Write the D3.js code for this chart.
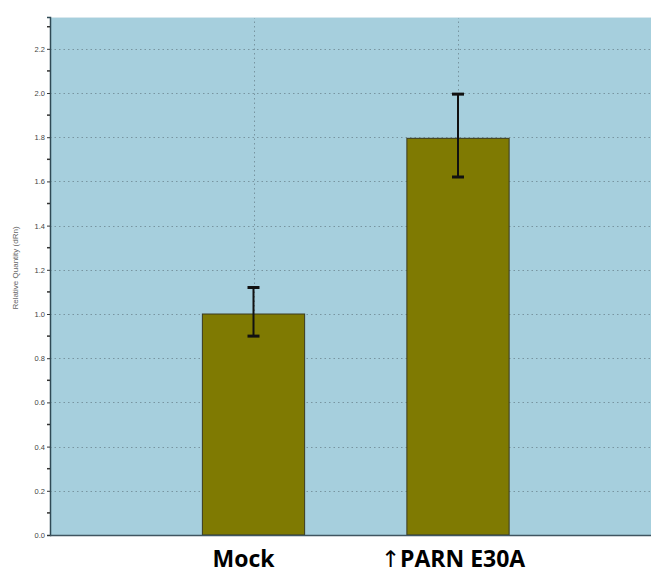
<!DOCTYPE html>
<html>
<head>
<meta charset="utf-8">
<script src="https://cdn.jsdelivr.net/npm/d3@7"></script>
<style>
  body { margin: 0; background: #fff; }
  svg { display: block; }
</style>
</head>
<body>
<svg id="chart" width="651" height="574"></svg>
<script>
// data
const categories = ["Mock", "\u2191PARN E30A"];
const values = [1.0, 1.795];
const errLow = [0.90, 1.62];
const errHigh = [1.12, 1.995];
const yTicks = [0.0, 0.2, 0.4, 0.6, 0.8, 1.0, 1.2, 1.4, 1.6, 1.8, 2.0, 2.2];

const svg = d3.select("#chart");
const W = 651, H = 574;
const plotLeft = 50, plotTop = 17, plotBottom = 535;

// bars sit at positions 1 and 2 on a 0..3 axis that runs past the right edge
const x = d3.scaleLinear().domain([0, 3]).range([49, 662.5]);
const y = d3.scaleLinear().domain([0, 2.344]).range([plotBottom, plotTop]);
const barW = x(0.5) - x(0);

svg.append("defs").append("clipPath").attr("id", "clip")
    .append("rect").attr("x", plotLeft).attr("y", plotTop).attr("width", W - plotLeft).attr("height", plotBottom - plotTop);

const plot = svg.append("g").attr("clip-path", "url(#clip)");

plot.append("rect")
    .attr("x", plotLeft).attr("y", plotTop)
    .attr("width", W - plotLeft).attr("height", plotBottom - plotTop)
    .attr("fill", "#a6cfdd");

// top border line of plot
svg.append("line")
    .attr("x1", plotLeft).attr("x2", W).attr("y1", plotTop + 0.5).attr("y2", plotTop + 0.5)
    .attr("stroke", "#d8e8ee").attr("stroke-width", 1);

// horizontal grid
plot.selectAll(".hgrid").data(yTicks.filter(d => d > 0)).enter().append("line")
    .attr("x1", plotLeft).attr("x2", W)
    .attr("y1", d => Math.round(y(d)) + 0.5).attr("y2", d => Math.round(y(d)) + 0.5)
    .attr("stroke", "#7895a0").attr("stroke-width", 1)
    .attr("stroke-dasharray", "1.5,3");

// vertical grid at category centers
plot.selectAll(".vgrid").data(categories).enter().append("line")
    .attr("x1", (d, i) => Math.round(x(i + 1)) + 0.5).attr("x2", (d, i) => Math.round(x(i + 1)) + 0.5)
    .attr("y1", plotTop).attr("y2", plotBottom)
    .attr("stroke", "#7895a0").attr("stroke-width", 1)
    .attr("stroke-dasharray", "1.5,3");

// bars
plot.selectAll(".bar").data(values).enter().append("rect")
    .attr("x", (d, i) => x(i + 1) - barW / 2)
    .attr("y", d => y(d))
    .attr("width", barW)
    .attr("height", d => y(0) - y(d))
    .attr("fill", "#7f7a02")
    .attr("stroke", "#3a3a20").attr("stroke-width", 1);

// error bars
const eb = plot.selectAll(".err").data(values).enter().append("g");
eb.append("line")
    .attr("x1", (d, i) => x(i + 1)).attr("x2", (d, i) => x(i + 1))
    .attr("y1", (d, i) => y(errHigh[i])).attr("y2", (d, i) => y(errLow[i]))
    .attr("stroke", "#111").attr("stroke-width", 2);
eb.append("line")
    .attr("x1", (d, i) => x(i + 1) - 6).attr("x2", (d, i) => x(i + 1) + 6)
    .attr("y1", (d, i) => y(errHigh[i])).attr("y2", (d, i) => y(errHigh[i]))
    .attr("stroke", "#111").attr("stroke-width", 3);
eb.append("line")
    .attr("x1", (d, i) => x(i + 1) - 6).attr("x2", (d, i) => x(i + 1) + 6)
    .attr("y1", (d, i) => y(errLow[i])).attr("y2", (d, i) => y(errLow[i]))
    .attr("stroke", "#111").attr("stroke-width", 3);

// y axis
const yAxis = d3.axisLeft(y).tickValues(yTicks).tickFormat(d3.format(".1f")).tickSize(3).tickPadding(2);
const ya = svg.append("g").attr("transform", `translate(${plotLeft},0)`).call(yAxis);
ya.select(".domain").attr("stroke", "#2f4a55").attr("stroke-width", 1.5);
ya.selectAll(".tick line").attr("stroke", "#333");
ya.selectAll(".tick text").attr("fill", "#444").style("font-family", "Liberation Sans, Arial, sans-serif").style("font-size", "7.5px");

// minor ticks
const minor = d3.range(1, 24, 2).map(d => d / 10);
svg.selectAll(".minor").data(minor).enter().append("line")
    .attr("x1", plotLeft - 3).attr("x2", plotLeft)
    .attr("y1", d => y(d)).attr("y2", d => y(d))
    .attr("stroke", "#333").attr("stroke-width", 1.5);

// x baseline
svg.append("line")
    .attr("x1", plotLeft).attr("x2", W).attr("y1", plotBottom + 0.5).attr("y2", plotBottom + 0.5)
    .attr("stroke", "#3f5560").attr("stroke-width", 1.5);

// axis title
svg.append("text")
    .attr("transform", "translate(18,268) rotate(-90)")
    .attr("text-anchor", "middle")
    .attr("fill", "#666")
    .style("font-family", "Liberation Sans, Arial, sans-serif")
    .style("font-size", "8px")
    .text("Relative Quantity (dRn)");

// category labels
const labels = svg.selectAll(".cat").data(categories).enter().append("text")
    .attr("x", (d, i) => i === 0 ? 243.5 : 453)
    .attr("y", 567)
    .attr("text-anchor", "middle")
    .attr("fill", "#000")
    .style("font-family", "Open Sans, sans-serif")
    .style("font-weight", "bold")
    .style("font-size", "23px");
labels.each(function(d) {
    const t = d3.select(this);
    if (d.startsWith("\u2191")) {
        t.append("tspan").style("font-family", "DejaVu Sans, sans-serif").style("font-weight", "normal").text("\u2191");
        t.append("tspan").text(d.slice(1));
    } else {
        t.text(d);
    }
});
</script>
</body>
</html>
